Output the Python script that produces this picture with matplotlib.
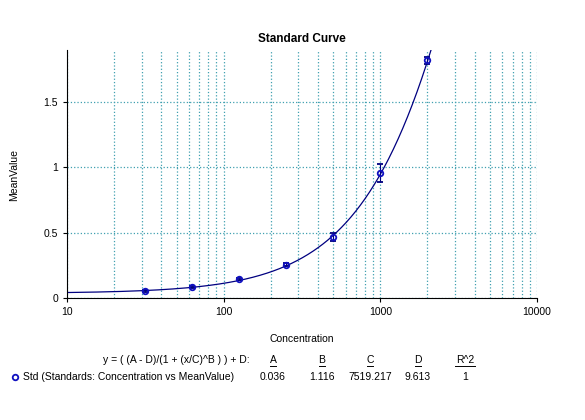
import numpy as np
import matplotlib
matplotlib.use("Agg")
import matplotlib.pyplot as plt

conc = [31.25, 62.5, 125, 250, 500, 1000, 2000]
mean_val = [0.055, 0.085, 0.145, 0.255, 0.465, 0.955, 1.82]
err = [0.008, 0.008, 0.01, 0.012, 0.03, 0.07, 0.03]
A, B, C, D, R2 = 0.036, 1.116, 7519.217, 9.613, 1

plt.rcParams['font.family'] = ['Liberation Sans', 'DejaVu Sans']
fig = plt.figure(figsize=(5.85, 4.2), dpi=100)
W, H = 585, 420
ax = fig.add_axes([67/W, 1-298/H, (537-67)/W, (298-50)/H])
navy = '#000080'
xs = np.logspace(1, 4, 600)
ys = (A - D) / (1 + (xs / C) ** B) + D
ax.plot(xs, ys, color=navy, lw=0.9)
ax.errorbar(conc, mean_val, yerr=err, fmt='o', mfc='none', mec='#1010c0', mew=1.3,
            ms=4, ecolor=navy, elinewidth=0.8, capsize=2.5)
ax.set_xscale('log')
ax.set_xlim(10, 10000)
ax.set_ylim(0, 1.9)
ax.set_yticks([0, 0.5, 1, 1.5])
ax.set_yticklabels(['0', '0.5', '1', '1.5'])
ax.set_xticks([10, 100, 1000, 10000])
ax.set_xticklabels(['10', '100', '1000', '10000'])
ax.grid(True, which='both', axis='x', color='#40a0b0', ls=':', lw=0.9)
ax.grid(True, which='major', axis='y', color='#40a0b0', ls=':', lw=0.9)
for s in ['top', 'right']:
    ax.spines[s].set_visible(False)
ax.tick_params(labelsize=7.5, length=3)
ax.tick_params(which='minor', length=0)
ax.set_title('Standard Curve', fontsize=8.5, fontweight='bold', pad=6)
ax.set_xlabel('Concentration', fontsize=7.5, labelpad=12)
fig.text(14/W, 1-175/H, 'MeanValue', rotation=90, fontsize=7.5, va='center', ha='center')

fs = 7.5
hy = 1 - 360/H
vy = 1 - 377/H
fig.text(250/W, hy, 'y = ( (A - D)/(1 + (x/C)^B ) ) + D:', fontsize=fs, ha='right', va='center')
cols = [273, 322, 370, 418, 465]
heads = ['A', 'B', 'C', 'D', 'R^2']
vals = ['0.036', '1.116', '7519.217', '9.613', '1']
for cx, h, v in zip(cols, heads, vals):
    t = fig.text(cx/W, hy, h, fontsize=fs, ha='center', va='center')
    half = 3.2 * len(h) / W
    fig.lines.append(plt.Line2D([cx/W - half, cx/W + half], [1 - 365.5/H] * 2, color='black',
                                lw=0.7, transform=fig.transFigure))
    fig.text(cx/W, vy, v, fontsize=fs, ha='center', va='center')
fig.lines.append(plt.Line2D([15/W], [vy], marker='o', mfc='none', mec='#1010c0', mew=1.3, ms=4,
                            transform=fig.transFigure))
fig.text(23/W, vy, 'Std (Standards: Concentration vs MeanValue)', fontsize=fs, ha='left', va='center')
fig.savefig('out.png', dpi=100)
